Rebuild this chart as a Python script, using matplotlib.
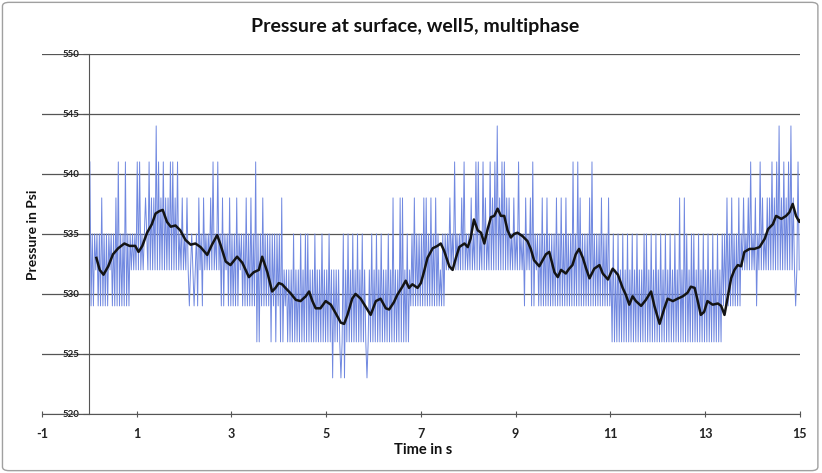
import matplotlib.pyplot as plt
import matplotlib.patches as patches
import numpy as np

# pressure levels of the raw signal (psi), coded 0..7 in the strings below
levels = [523, 526, 529, 532, 535, 538, 541, 544]
rate = 40  # samples per second of the raw trace

# raw surface pressure, one string per second of record
raw_codes = [
    "6242434242" "5242424342" "4252624242" "6242434343",
    "6363434543" "6353537363" "5363535363" "6353634353",
    "4353234323" "4253425343" "4353634363" "4252434252",
    "4242524342" "4252425242" "6141425242" "4241424142",
    "4151323131" "3141313141" "3141413131" "4131314131",
    "3141303131" "3101403141" "3141314131" "4131013141",
    "3141314131" "3141315131" "3151513141" "3242524242",
    "4252524252" "4252423242" "4343534363" "4343536343",
    "4353436363" "4363534363" "5363735363" "6353534353",
    "4363434253" "4352624342" "4252425242" "4242524252",
    "4252424262" "4262524242" "4252624242" "4252424252",
    "3141314131" "4131413141" "3141313141" "4131413141",
    "3141314131" "4131413151" "3151413141" "4131413141",
    "3141314131" "4131424252" "4252424252" "4353435363",
    "4352436353" "4353536353" "6373536353" "6373532363",
]

# smoothed pressure (black line)
smooth_t = [0.15, 0.22, 0.30, 0.40, 0.50, 0.61, 0.74, 0.85, 0.97, 1.04,
            1.12, 1.22, 1.32, 1.40, 1.48, 1.55, 1.64, 1.72, 1.82, 1.92,
            2.03, 2.14, 2.24, 2.35, 2.49, 2.59, 2.70, 2.77, 2.88, 2.98,
            3.12, 3.23, 3.37, 3.47, 3.58, 3.65, 3.76, 3.86, 3.93, 4.00,
            4.07, 4.14, 4.25, 4.36, 4.46, 4.57, 4.64, 4.71, 4.78, 4.88,
            4.99, 5.10, 5.20, 5.31, 5.38, 5.45, 5.55, 5.62, 5.73, 5.84,
            5.94, 6.05, 6.15, 6.26, 6.33, 6.43, 6.50, 6.61, 6.68, 6.75,
            6.82, 6.93, 7.00, 7.07, 7.14, 7.25, 7.35, 7.42, 7.49, 7.60,
            7.67, 7.74, 7.81, 7.92, 7.99, 8.05, 8.12, 8.20, 8.27, 8.34,
            8.41, 8.48, 8.55, 8.62, 8.69, 8.76, 8.83, 8.90, 8.97, 9.04,
            9.15, 9.25, 9.32, 9.39, 9.50, 9.64, 9.71, 9.82, 9.89, 9.96,
            10.06, 10.13, 10.20, 10.27, 10.34, 10.42, 10.49, 10.56, 10.66, 10.77,
            10.84, 10.95, 11.05, 11.16, 11.26, 11.33, 11.40, 11.47, 11.54, 11.65,
            11.75, 11.86, 11.93, 12.04, 12.14, 12.21, 12.32, 12.42, 12.53, 12.63,
            12.70, 12.78, 12.84, 12.91, 12.98, 13.05, 13.16, 13.27, 13.34, 13.41,
            13.48, 13.55, 13.62, 13.69, 13.76, 13.83, 13.94, 14.04, 14.15, 14.26,
            14.33, 14.43, 14.50, 14.61, 14.71, 14.78, 14.85, 14.92, 14.99, 15.05]
smooth_p = [533.0, 532.0, 531.6, 532.3, 533.3, 533.8, 534.2, 534.0, 534.0, 533.5,
            534.0, 535.1, 535.8, 536.7, 536.9, 537.0, 536.0, 535.6, 535.7, 535.3,
            534.5, 534.1, 534.2, 533.9, 533.25, 534.1, 534.9, 534.1, 532.7, 532.4,
            533.1, 532.6, 531.4, 531.8, 532.0, 533.1, 531.8, 530.2, 530.5, 530.9,
            530.8, 530.5, 530.05, 529.5, 529.4, 529.8, 530.2, 529.4, 528.8, 528.8,
            529.4, 529.1, 528.4, 527.6, 527.5, 528.25, 529.6, 530.0, 529.6, 528.9,
            528.25, 529.4, 529.6, 528.8, 528.7, 529.3, 529.9, 530.6, 531.1, 530.5,
            530.8, 530.5, 530.9, 531.9, 533.0, 533.8, 534.0, 534.2, 533.6, 532.3,
            532.0, 533.0, 533.9, 534.2, 533.9, 534.6, 536.2, 535.3, 535.1, 534.2,
            535.4, 536.4, 536.5, 537.1, 536.5, 536.5, 535.3, 534.7, 535.0, 535.1,
            534.8, 534.4, 533.75, 532.8, 532.3, 533.3, 533.5, 531.8, 531.4, 532.0,
            531.7, 532.1, 532.4, 533.3, 533.75, 533.0, 532.1, 531.3, 532.1, 532.4,
            531.7, 531.2, 532.1, 531.6, 530.5, 529.9, 529.1, 529.8, 529.4, 529.0,
            529.5, 530.2, 529.0, 527.5, 528.8, 529.6, 529.4, 529.6, 529.8, 530.1,
            530.6, 530.5, 529.5, 528.25, 528.5, 529.4, 529.1, 529.2, 529.0, 528.25,
            529.8, 531.3, 532.0, 532.4, 532.3, 533.5, 533.75, 533.75, 533.9, 534.6,
            535.4, 535.8, 536.5, 536.25, 536.5, 536.8, 537.5, 536.5, 536.0, 536.4]

x_ticks = [-1, 1, 3, 5, 7, 9, 11, 13, 15]
y_ticks = [520, 525, 530, 535, 540, 545, 550]

raw_p = [levels[int(c)] for c in "".join(raw_codes)]
raw_t = (np.arange(len(raw_p)) + 0.5) / rate

plt.rcParams['font.family'] = ['Lato', 'DejaVu Sans']
plt.rcParams['axes.unicode_minus'] = False
fig = plt.figure(figsize=(8.22, 4.73), dpi=100)
ax = fig.add_axes([0.051, 0.125, 0.922, 0.761])

ax.plot(raw_t, raw_p, color='#7088e0', lw=0.7, zorder=2)
ax.plot(smooth_t, smooth_p, color='#141414', lw=1.8, zorder=3)

ax.set_xlim(-1, 15)
ax.set_ylim(520, 550)
ax.set_xticks(x_ticks)
ax.set_yticks(y_ticks)
ax.yaxis.grid(True, color='#555555', lw=0.9, zorder=1)
ax.set_axisbelow(True)

for s in ['top', 'right']:
    ax.spines[s].set_visible(False)
ax.spines['left'].set_position(('data', 0))
ax.spines['left'].set_color('#555555')
ax.spines['bottom'].set_color('#555555')
ax.tick_params(axis='x', direction='inout', length=5, color='#555555', pad=8,
               labelsize=9)
ax.tick_params(axis='y', direction='out', length=4, color='#555555', pad=3,
               labelsize=7)
for lab in ax.get_xticklabels() + ax.get_yticklabels():
    lab.set_fontweight('bold')
    lab.set_color('#222222')

fig.text(0.505, 0.943, 'Pressure at surface, well5, multiphase', ha='center',
         va='center', fontsize=14, fontweight='bold', color='#111111')
fig.text(0.040, 0.503, 'Pressure in Psi', rotation=90, ha='center', va='center',
         fontsize=10, fontweight='bold', color='#111111')
fig.text(0.515, 0.048, 'Time in s', ha='center', va='center',
         fontsize=10.5, fontweight='bold', color='#111111')

fig.patches.append(patches.FancyBboxPatch(
    (0.003, 0.005), 0.992, 0.99, boxstyle='round,pad=0,rounding_size=0.008',
    transform=fig.transFigure, fill=False, ec='#a0a0a0', lw=1))

fig.savefig('out.png', dpi=100)
